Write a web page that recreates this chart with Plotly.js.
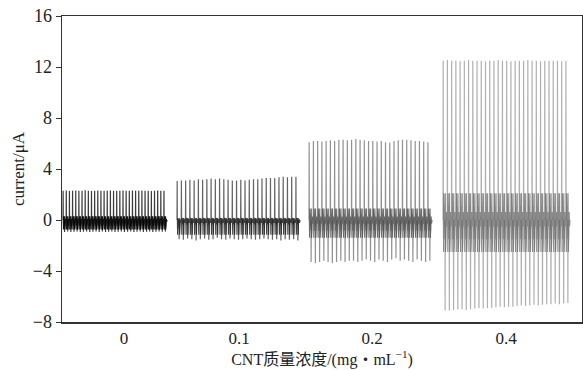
<!DOCTYPE html>
<html>
<head>
<meta charset="utf-8">
<script src="https://cdn.plot.ly/plotly-3.0.1.min.js"></script>
<style>html,body{margin:0;padding:0;background:#fff;}#chart{width:583px;height:370px;}</style>
</head>
<body>
<div id="chart"></div>
<script>
// Concentration categories (tick labels)
const categories = ['0', '0.1', '0.2', '0.4'];

// Positive peak currents (µA) of each pulse, per concentration
const peaks0 = [2.3,2.32,2.28,2.3,2.31,2.29,2.3,2.33,2.3,2.28,2.3,2.31,2.3,2.29,2.3,2.32,2.3,2.3,2.29,2.31,2.3,2.3,2.32,2.29,2.3,2.31,2.3,2.3,2.28,2.3,2.31,2.3,2.3];
const peaks01 = [3.05,3.1,3.1,3.15,3.1,3.2,3.15,3.2,3.25,3.2,3.25,3.2,3.15,3.1,3.1,3.15,3.1,3.15,3.2,3.2,3.25,3.3,3.3,3.3,3.35,3.4,3.35,3.4,3.4];
const peaks02 = [6.1,6.2,6.2,6.15,6.2,6.25,6.2,6.3,6.3,6.25,6.3,6.35,6.3,6.25,6.2,6.2,6.15,6.2,6.1,6.05,6.2,6.25,6.3,6.3,6.25,6.2,6.2,6.15,6.1];
const peaks04 = [12.5,12.55,12.5,12.5,12.45,12.5,12.55,12.5,12.5,12.5,12.45,12.5,12.5,12.55,12.5,12.5,12.45,12.5,12.5,12.5,12.55,12.5,12.5,12.45,12.5,12.5,12.5,12.5,12.45,12.5];

// Negative peak currents (µA) of each pulse, per concentration
const troughs0 = [-0.95,-0.9,-0.95,-0.92,-0.9,-0.95,-0.93,-0.9,-0.95,-0.92,-0.9,-0.94,-0.9,-0.95,-0.92,-0.9,-0.95,-0.93,-0.9,-0.94,-0.92,-0.9,-0.95,-0.92,-0.9,-0.94,-0.92,-0.9,-0.95,-0.92,-0.9,-0.93,-0.9];
const troughs01 = [-1.5,-1.55,-1.45,-1.5,-1.6,-1.5,-1.45,-1.55,-1.5,-1.4,-1.5,-1.55,-1.45,-1.5,-1.55,-1.5,-1.45,-1.5,-1.55,-1.5,-1.45,-1.5,-1.55,-1.5,-1.6,-1.5,-1.55,-1.5,-1.6];
const troughs02 = [-3.3,-3.4,-3.3,-3.2,-3.3,-3.4,-3.3,-3.2,-3.3,-3.2,-3.2,-3.3,-3.2,-3.1,-3.2,-3.3,-3.1,-3.2,-3.3,-3.1,-3.0,-3.2,-3.1,-3.2,-3.3,-3.1,-3.2,-3.3,-3.2];
const troughs04 = [-7.1,-7.1,-7.05,-7.0,-7.0,-7.05,-7.0,-6.95,-6.9,-6.95,-6.9,-6.9,-6.85,-6.8,-6.85,-6.8,-6.8,-6.75,-6.7,-6.75,-6.7,-6.65,-6.7,-6.65,-6.6,-6.6,-6.55,-6.6,-6.55,-6.5];

// Secondary oscillation band (upper, lower) per concentration
const bandHigh = [0.3, 0.15, 0.9, 2.1];
const bandLow = [-0.75, -1.15, -1.4, -2.5];

const peaks = [peaks0, peaks01, peaks02, peaks04];
const troughs = [troughs0, troughs01, troughs02, troughs04];

// layout positions (x axis units ~ pixels of plot area)
const segStart = [1, 115, 247, 381];
const segEnd = [105, 238, 370, 508];
const tickPos = [62, 177, 310, 444];
const spikeColor = ['rgba(25,25,25,0.85)', 'rgba(60,60,60,0.8)', 'rgba(110,110,110,0.75)', 'rgba(150,150,150,0.75)'];
const bandColor = ['rgba(0,0,0,0.9)', 'rgba(30,30,30,0.85)', 'rgba(70,70,70,0.8)', 'rgba(90,90,90,0.7)'];

const traces = [];
for (let s = 0; s < 4; s++) {
  const n = peaks[s].length;
  const T = (segEnd[s] - segStart[s]) / n;
  const sx = [], sy = [], bx = [], by = [];
  for (let i = 0; i < n; i++) {
    const P = peaks[s][i], N = troughs[s][i], bh = bandHigh[s], bl = bandLow[s];
    const t0 = segStart[s] + i * T;
    // main spikes (positive then negative)
    sx.push(t0, t0 + 0.04 * T, t0 + 0.08 * T, null, t0 + 0.46 * T, t0 + 0.5 * T, t0 + 0.54 * T, null);
    sy.push(0, P, 0, null, 0, N, 0, null);
    // damped secondary oscillation
    const bf = [0.08, 0.14, 0.2, 0.26, 0.32, 0.4, 0.46, 0.54, 0.6, 0.66, 0.72, 0.8, 0.9, 1.0];
    const bv = [0, bl, bh, bl * 0.6, bh * 0.5, bl * 0.3, 0, bh, bl, bh * 0.6, bl * 0.5, bh * 0.3, bl * 0.2, 0];
    for (let k = 0; k < bf.length; k++) { bx.push(t0 + bf[k] * T); by.push(bv[k]); }
  }
  traces.push({
    x: sx, y: sy, type: 'scatter', mode: 'lines',
    line: {color: spikeColor[s], width: 1.2},
    hoverinfo: 'skip', showlegend: false
  });
  traces.push({
    x: bx, y: by, type: 'scatter', mode: 'lines',
    line: {color: bandColor[s], width: 1.1},
    hoverinfo: 'skip', showlegend: false
  });
}

const fontFam = "Liberation Serif, Times New Roman, Noto Sans CJK SC, serif";
const layout = {
  width: 583, height: 370,
  margin: {l: 62, r: 1, t: 16, b: 48},
  paper_bgcolor: '#fff', plot_bgcolor: '#fff',
  showlegend: false,
  font: {family: fontFam, color: '#222', size: 16},
  xaxis: {
    range: [0, 520], showgrid: false, zeroline: false,
    tickvals: tickPos, ticktext: categories, ticks: '',
    showline: true, linecolor: '#333', linewidth: 1.5, mirror: true,
    tickfont: {family: fontFam, size: 17, color: '#222'},
    title: {text: 'CNT质量浓度/(mg・mL<sup>−1</sup>)', font: {family: fontFam, size: 16, color: '#222'}, standoff: 4}
  },
  yaxis: {
    range: [-8, 16], tickvals: [-8, -4, 0, 4, 8, 12, 16],
    ticktext: ['−8', '−4', '0', '4', '8', '12', '16'],
    showgrid: false, zeroline: false,
    ticks: 'outside', ticklen: 5, tickwidth: 1, tickcolor: '#333',
    showline: true, linecolor: '#333', linewidth: 1.5, mirror: true,
    tickfont: {family: fontFam, size: 18, color: '#222'},
    title: {text: 'current/μA', font: {family: fontFam, size: 17, color: '#222'}, standoff: 4}
  }
};

Plotly.newPlot('chart', traces, layout, {staticPlot: true, displayModeBar: false});
</script>
</body>
</html>
